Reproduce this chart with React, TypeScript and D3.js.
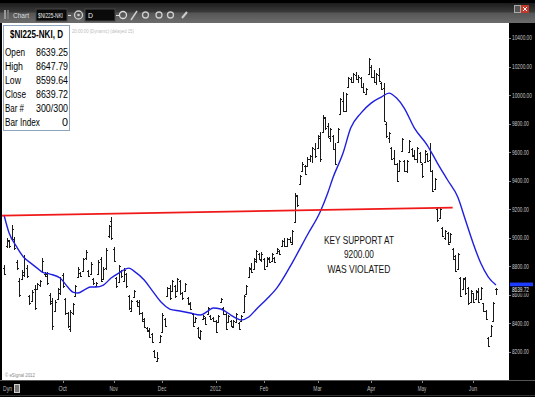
import React, { useLayoutEffect, useRef, useState } from 'react';
import * as d3 from 'd3';

const highs = [
  8809,8998,8984,9089,9005,8844,8718,8774,8879,8809,
  8599,8634,8669,8683,8704,8858,8760,8760,8613,8578,
  8564,8648,8725,8753,8578,8480,8494,8543,8669,8795,
  8760,8858,8914,8774,8830,8718,8690,8844,8865,8795,
  8928,9089,9145,8935,8725,8809,8774,8788,8753,8599,
  8564,8634,8564,8564,8480,8438,8375,8368,8333,8214,
  8200,8319,8473,8438,8655,8669,8704,8669,8718,8704,
  8620,8683,8585,8550,8473,8445,8375,8354,8459,8445,
  8515,8459,8445,8424,8459,8578,8515,8473,8459,8424,
  8424,8473,8410,8459,8599,8669,8795,8823,8858,8914,
  8893,8900,8858,8865,8865,8893,8865,8928,8914,8984,
  8998,8998,9005,9054,9314,9300,9440,9531,9510,9566,
  9580,9636,9664,9720,9741,9860,9846,9804,9769,9720,
  9664,9769,9979,10021,10014,10126,10126,10154,10161,10140,
  10126,10084,10049,10259,10210,10175,10154,10189,10091,10084,
  9811,9741,9636,9615,9524,9545,9699,9545,9545,9685,
  9629,9615,9636,9601,9524,9615,9594,9664,9475,9419,
  9216,9209,9076,9055,9041,9034,8929,8880,8894,8726,
  8719,8726,8656,8635,8614,8635,8649,8656,8544,8495,
  8306,8390,8551,8647.79,
];
const lows = [
  8739,8928,8928,8984,8914,8774,8585,8704,8725,8718,
  8529,8550,8494,8634,8655,8760,8725,8669,8529,8354,
  8480,8564,8599,8648,8459,8368,8340,8459,8585,8718,
  8725,8760,8844,8725,8739,8669,8655,8739,8690,8704,
  8774,8998,8984,8830,8648,8683,8718,8690,8648,8494,
  8480,8578,8515,8459,8410,8368,8340,8298,8263,8158,
  8130,8263,8333,8375,8585,8564,8620,8578,8620,8599,
  8564,8620,8529,8494,8375,8403,8298,8284,8424,8389,
  8459,8424,8410,8333,8403,8543,8459,8354,8403,8375,
  8368,8403,8354,8410,8473,8599,8718,8753,8774,8823,
  8844,8830,8774,8795,8823,8830,8823,8893,8879,8935,
  8935,8935,8963,8949,9103,9216,9370,9461,9440,9496,
  9531,9524,9559,9629,9531,9734,9755,9699,9671,9615,
  9510,9664,9860,9881,9881,10056,10084,10084,10105,10084,
  10049,10014,9999,10140,10119,10084,10070,10091,10035,9811,
  9699,9664,9545,9510,9391,9461,9601,9461,9454,9594,
  9566,9545,9524,9524,9419,9524,9531,9461,9321,9335,
  9111,9139,9006,8985,8950,8964,8845,8761,8775,8586,
  8635,8600,8530,8544,8544,8565,8544,8565,8481,8425,
  8236,8306,8411,8599.64,
];
const opens = [
  8790,8940,8975,9000,8990,8830,8700,8710,8740,8790,
  8590,8560,8640,8640,8670,8770,8750,8745,8600,8560,
  8490,8570,8610,8740,8570,8470,8360,8470,8590,8725,
  8755,8770,8860,8770,8745,8710,8660,8750,8850,8710,
  8790,9010,9120,8920,8715,8690,8765,8700,8745,8590,
  8490,8585,8555,8550,8470,8430,8370,8355,8325,8205,
  8140,8270,8340,8430,8590,8650,8630,8660,8630,8695,
  8610,8625,8580,8545,8465,8410,8370,8295,8430,8440,
  8465,8455,8440,8415,8410,8550,8510,8465,8410,8420,
  8375,8410,8405,8415,8480,8605,8725,8790,8780,8840,
  8885,8845,8850,8800,8855,8835,8860,8895,8910,8940,
  8975,8945,8990,8960,9110,9290,9380,9470,9500,9500,
  9550,9570,9620,9630,9700,9740,9840,9780,9700,9710,
  9620,9670,9870,9960,9890,10060,10115,10090,10140,10110,
  10120,10060,10010,10150,10200,10130,10090,10140,10085,10050,
  9800,9700,9630,9560,9515,9470,9610,9540,9465,9600,
  9620,9580,9550,9595,9520,9530,9590,9545,9465,9340,
  9200,9140,9070,9000,9035,8970,8920,8870,8780,8720,
  8640,8715,8650,8550,8610,8570,8620,8570,8540,8490,
  8300,8310,8420,8639.25,
];
const closes = [
  8750,8985,8940,9060,8930,8790,8600,8760,8860,8730,
  8540,8620,8510,8675,8695,8840,8735,8680,8545,8380,
  8550,8640,8710,8660,8470,8380,8480,8535,8660,8785,
  8735,8850,8900,8735,8820,8680,8685,8830,8700,8785,
  8915,9080,9000,8840,8660,8800,8730,8775,8660,8505,
  8555,8625,8525,8470,8420,8375,8345,8305,8270,8165,
  8160,8310,8460,8385,8645,8575,8695,8590,8710,8610,
  8575,8675,8535,8500,8385,8440,8305,8345,8455,8395,
  8510,8430,8415,8340,8450,8570,8465,8360,8450,8380,
  8415,8465,8360,8450,8590,8660,8785,8760,8850,8905,
  8850,8890,8785,8860,8830,8885,8830,8920,8885,8980,
  8945,8990,8970,9045,9300,9230,9430,9520,9450,9555,
  9575,9630,9570,9710,9550,9850,9770,9710,9760,9625,
  9520,9760,9970,9890,10005,10120,10090,10145,10110,10130,
  10055,10020,10040,10250,10125,10095,10145,10100,10040,9820,
  9710,9735,9555,9520,9400,9540,9690,9470,9535,9680,
  9575,9555,9630,9530,9430,9610,9540,9470,9330,9410,
  9125,9200,9010,9050,8960,9025,8850,8770,8885,8595,
  8710,8610,8540,8630,8550,8630,8550,8650,8490,8430,
  8240,8385,8545,8639.72,
];

const maIdx = [0,2,5,8,10,13,15,18,22,25,27,29,32,34,36,39,42,45,49,51,55,58,62,65,69,73,77,80,82,85,89,91,93,96,99,103,107,113,119,124,127,129,133,136,140,144,148,151,154,157,161,166,170,174,178,181,184,187,190,193];
const maVal = [9160,9034,8936,8858,8830,8788,8760,8746,8718,8655,8620,8613,8641,8655,8655,8669,8718,8753,8788,8767,8704,8634,8543,8501,8487,8473,8459,8487,8508,8501,8459,8438,8424,8445,8500,8570,8648,8823,9020,9181,9314,9419,9594,9769,9874,9944,9986,10014,9979,9909,9769,9650,9524,9405,9286,9125,8964,8823,8725,8669];

const supportIdx = [0, 176];
const supportVal = [9155, 9212];

const yTicks = [8200,8400,8600,8800,9000,9200,9400,9600,9800,10000,10200,10400];
const monthIdx = [23,43,62,83,102,123,144,164,184];
const monthLabels = ['Oct','Nov','Dec','2012','Feb','Mar','Apr','May','Jun'];
const legendLabels = ['Open','High','Low','Close','Bar #','Bar Index'];
const legendLabelWidths = [20,18,16,21,19,35];
const noteLines = ['KEY SUPPORT AT','9200.00','WAS VIOLATED'];
const noteWidths = [70,30,63];

const FONT = 'Liberation Sans, Arial, sans-serif';

type CTextProps = {
  x: number; y: number; w: number; size: number; fill: string;
  anchor?: 'start' | 'middle' | 'end'; bold?: boolean; children: string;
};

// text horizontally condensed to a given width (scaled about its anchor point)
function CText({ x, y, w, size, fill, anchor = 'start', bold = false, children }: CTextProps) {
  const ref = useRef<SVGTextElement>(null);
  const [s, setS] = useState(1);
  useLayoutEffect(() => {
    if (ref.current) {
      const len = ref.current.getComputedTextLength();
      if (len > 0) setS(Math.min(1, w / len));
    }
  }, [w, children, size]);
  return (
    <text
      ref={ref}
      x={x}
      y={y}
      fontSize={size}
      fill={fill}
      fontWeight={bold ? 'bold' : 'normal'}
      textAnchor={anchor}
      transform={`translate(${x},0) scale(${s},1) translate(${-x},0)`}
    >
      {children}
    </text>
  );
}

export default function App() {
  const n = highs.length;
  const x = d3.scaleLinear().domain([0, n - 1]).range([4, 496]);
  const y = d3.scaleLinear().domain([8200, 10400]).range([352, 38]);
  const maLine = d3.line<number>()
    .x((_, i) => x(maIdx[i]))
    .y((d) => y(d))
    .curve(d3.curveMonotoneX);
  const last = n - 1;
  const legendValues = [
    opens[last].toFixed(2), highs[last].toFixed(2), lows[last].toFixed(2),
    closes[last].toFixed(2), `${n + 106}/${n + 106}`, '0',
  ];
  const lastMa = maVal[maVal.length - 1];

  return (
    <svg width={535} height={397} style={{ position: 'absolute', left: 0, top: 0, display: 'block' }} fontFamily={FONT}>
      <defs>
        <linearGradient id="tb" x1="0" y1="0" x2="0" y2="1">
          <stop offset="0" stopColor="#1c1c1c" />
          <stop offset="0.45" stopColor="#3a3a3a" />
          <stop offset="0.5" stopColor="#555" />
          <stop offset="1" stopColor="#6c6c6c" />
        </linearGradient>
      </defs>
      <rect x={0} y={0} width={535} height={397} fill="#000" />
      {/* title bar */}
      <rect x={0} y={3} width={535} height={20} fill="url(#tb)" />
      <rect x={4} y={10} width={2} height={9} fill="#999" />
      <rect x={7} y={10} width={2} height={9} fill="#777" />
      <CText x={13} y={18} w={16} size={8} fill="#ddd">Chart</CText>
      <rect x={36} y={9} width={31} height={12} fill="#0a0a0a" stroke="#444" />
      <CText x={38} y={18} w={25} size={7.5} fill="#eee">$NI225-NKI</CText>
      <rect x={68} y={15} width={3} height={1} fill="#ddd" />
      <circle cx={78.5} cy={15} r={4} fill="none" stroke="#ccc" strokeWidth={1.3} />
      <circle cx={78.5} cy={15} r={1.3} fill="#ccc" />
      <rect x={85} y={9} width={30} height={12} fill="#0a0a0a" stroke="#444" />
      <CText x={88} y={18} w={5} size={7.5} fill="#eee">D</CText>
      <rect x={116} y={15} width={3} height={1} fill="#ddd" />
      <circle cx={123} cy={15} r={3.5} fill="none" stroke="#ddd" strokeWidth={1.3} />
      <line x1={131} y1={20} x2={137} y2={11} stroke="#ccc" strokeWidth={1.5} />
      <circle cx={145.5} cy={15} r={3} fill="none" stroke="#ccc" strokeWidth={1.3} />
      <circle cx={159} cy={15} r={3} fill="none" stroke="#ccc" strokeWidth={1.3} />
      <circle cx={170.5} cy={15} r={3} fill="none" stroke="#ccc" strokeWidth={1.3} />
      <line x1={182} y1={18} x2={187} y2={12} stroke="#ccc" strokeWidth={2} />
      <rect x={514.5} y={5.5} width={6} height={7} fill="#555" stroke="#aaa" />
      <rect x={521} y={5} width={8} height={8} fill="#c0392b" />
      <line x1={523} y1={7} x2={527} y2={11} stroke="#fff" />
      <line x1={527} y1={7} x2={523} y2={11} stroke="#fff" />

      {/* plot area */}
      <rect x={2} y={23} width={507} height={357} fill="#fff" />
      <CText x={72} y={33} w={62} size={6} fill="#bbb">20:00:00 (Dynamic) (delayed 15)</CText>
      <CText x={5} y={377} w={30} size={5.5} fill="#888">© eSignal 2012</CText>

      {/* bars */}
      <g stroke="#1a1a1a" strokeWidth={1} shapeRendering="crispEdges">
        {highs.map((h, i) => {
          const cx = Math.round(x(i)) + 0.5;
          const yo = Math.round(y(opens[i])) + 0.5;
          const yc = Math.round(y(closes[i])) + 0.5;
          return (
            <g key={i}>
              <line x1={cx} x2={cx} y1={y(h)} y2={y(lows[i])} />
              <line x1={cx - 1.5} x2={cx} y1={yo} y2={yo} />
              <line x1={cx} x2={cx + 1.5} y1={yc} y2={yc} />
            </g>
          );
        })}
      </g>

      {/* moving average */}
      <path d={maLine(maVal) || ''} fill="none" stroke="#1f1fe0" strokeWidth={1.4} />

      {/* support line */}
      <line x1={x(supportIdx[0]) - 2} y1={y(supportVal[0])} x2={x(supportIdx[1])} y2={y(supportVal[1])} stroke="#f01818" strokeWidth={1.8} />

      {/* annotation */}
      {noteLines.map((t, k) => (
        <CText key={t} x={359} y={244 + k * 14.5} w={noteWidths[k]} size={11} fill="#111" anchor="middle">{t}</CText>
      ))}

      {/* legend */}
      <rect x={3.5} y={25.5} width={66} height={105} fill="#fff" stroke="#8ea4bc" />
      <CText x={36.5} y={38.5} w={53} size={11} fill="#000" anchor="middle" bold>$NI225-NKI, D</CText>
      {legendLabels.map((l, k) => (
        <g key={l}>
          <CText x={5} y={56 + k * 14} w={legendLabelWidths[k]} size={11.5} fill="#000">{l}</CText>
          <CText x={68} y={56 + k * 14} w={legendValues[k].length > 1 ? 32 : 6} size={11.5} fill="#000" anchor="end">{legendValues[k]}</CText>
        </g>
      ))}

      {/* right axis */}
      {yTicks.map((v) => (
        <g key={v}>
          <line x1={509} x2={511} y1={Math.round(y(v)) + 0.5} y2={Math.round(y(v)) + 0.5} stroke="#888" />
          <CText x={512} y={y(v) + 2.5} w={v >= 10000 ? 20 : 17} size={7} fill="#c8c8c8">{v.toFixed(2)}</CText>
        </g>
      ))}
      <rect x={510} y={y(lastMa) - 2.5} width={23} height={4.5} fill="#1e3cff" />
      <rect x={510} y={y(closes[last]) - 3} width={24} height={7} fill="#000" />
      <CText x={512} y={y(closes[last]) + 2.5} w={17} size={7} fill="#eee">{closes[last].toFixed(2)}</CText>

      {/* bottom axis */}
      <line x1={0} x2={535} y1={380.5} y2={380.5} stroke="#555" />
      <line x1={0} x2={535} y1={395.5} y2={395.5} stroke="#333" />
      <CText x={3} y={391} w={9} size={7} fill="#bbb">Dyn</CText>
      <rect x={14.5} y={384.5} width={5} height={8} fill="#777" stroke="#ccc" />
      {monthIdx.map((m, k) => (
        <g key={monthLabels[k]}>
          <line x1={Math.round(x(m)) + 0.5} x2={Math.round(x(m)) + 0.5} y1={381} y2={383} stroke="#888" />
          <CText x={x(m)} y={391} w={monthLabels[k].length * 2.8} size={7} fill="#bbb" anchor="middle">{monthLabels[k]}</CText>
        </g>
      ))}
    </svg>
  );
}
